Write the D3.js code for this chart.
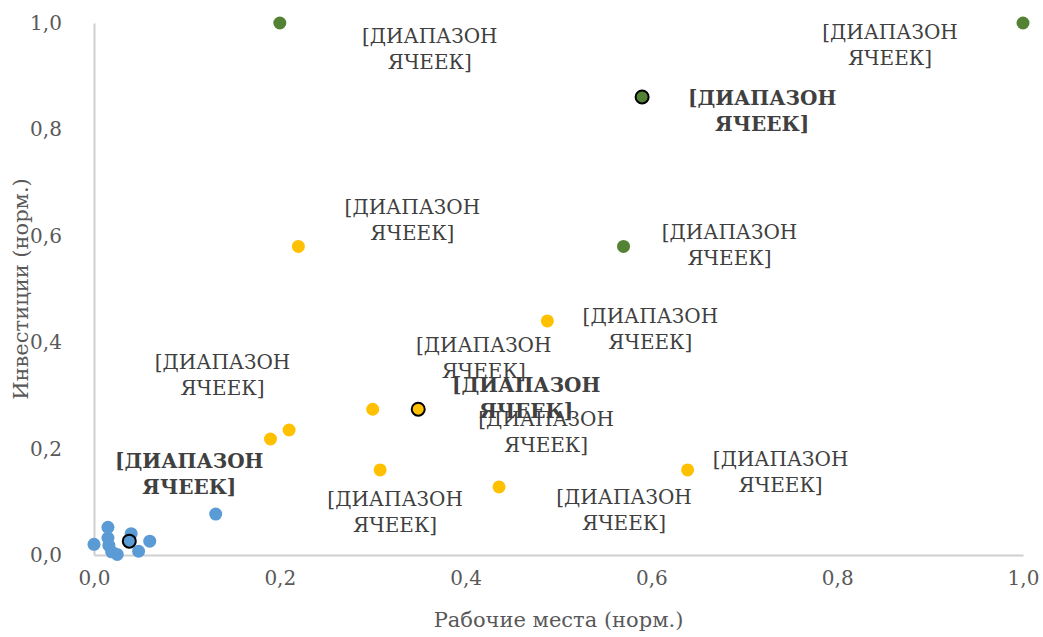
<!DOCTYPE html>
<html>
<head>
<meta charset="utf-8">
<script src="https://cdn.jsdelivr.net/npm/d3@7/dist/d3.min.js"></script>
<style>
  body { margin: 0; background: #fff; }
</style>
</head>
<body>
<svg id="chart" width="1043" height="637"></svg>
<script>
// data (normalised values)
var blueX = [0.0, 0.015, 0.015, 0.016, 0.019, 0.025, 0.04, 0.048, 0.06, 0.131, 0.038];
var blueY = [0.02, 0.052, 0.032, 0.018, 0.006, 0.001, 0.04, 0.007, 0.026, 0.077, 0.026];
var blueMain = 10;

var orangeX = [0.22, 0.488, 0.30, 0.349, 0.21, 0.19, 0.308, 0.436, 0.639];
var orangeY = [0.58, 0.44, 0.274, 0.274, 0.235, 0.218, 0.16, 0.128, 0.16];
var orangeMain = 3;

var greenX = [0.2, 1.0, 0.59, 0.57];
var greenY = [1.0, 1.0, 0.861, 0.58];
var greenMain = 2;

var xTicks = [0, 0.2, 0.4, 0.6, 0.8, 1.0];
var yTicks = [0, 0.2, 0.4, 0.6, 0.8, 1.0];

var labelText = ['[ДИАПАЗОН', 'ЯЧЕЕК]'];
var xTitle = 'Рабочие места (норм.)';
var yTitle = 'Инвестиции (норм.)';

// label offsets in px (layout only), null = no label
var blueLabelOff = [null, null, null, null, null, null, null, null, null, null, [60, -67]];
var orangeLabelOff = [[114, -26], [103, 8], [111, -51], [108, -11], [257, 2], [-48, -64], [15, 42], [125, 23], [93, 2]];
var greenLabelOff = [[150, 26], [-133, 22], [120, 14], [106, -1]];

// only DejaVu Serif gives serif cyrillic in the sandbox
var FONT = '"DejaVu Serif", serif';

var svg = d3.select('#chart');
var margin = {left: 94, top: 23, right: 20, bottom: 82};
var W = 1043, H = 637;

var x = d3.scaleLinear().domain([0, 1]).range([margin.left, W - margin.right]);
var y = d3.scaleLinear().domain([0, 1]).range([H - margin.bottom, margin.top]);

var fmt = function(d){ return d3.format('.1f')(d).replace('.', ','); };

// axes
var xAxis = svg.append('g')
	.attr('transform', 'translate(0,' + y(0) + ')')
	.call(d3.axisBottom(x).tickValues(xTicks).tickFormat(fmt).tickSize(0).tickPadding(16));
var yAxis = svg.append('g')
	.attr('transform', 'translate(' + x(0) + ',0)')
	.call(d3.axisLeft(y).tickValues(yTicks).tickFormat(fmt).tickSize(0).tickPadding(47));

[xAxis, yAxis].forEach(function(a){
	a.attr('font-family', FONT).attr('font-size', 20);
	a.select('.domain').attr('stroke', '#d0d0d0').attr('stroke-width', 2);
	a.selectAll('text').attr('fill', '#595959');
});
yAxis.selectAll('text').attr('text-anchor', 'middle').attr('dx', '-1');

svg.append('text')
	.attr('x', (x(0) + x(1)) / 2)
	.attr('y', 627)
	.attr('text-anchor', 'middle')
	.attr('fill', '#595959')
	.attr('font-family', FONT)
	.attr('font-size', 21)
	.text(xTitle);

svg.append('text')
	.attr('transform', 'translate(28,' + ((y(0) + y(1)) / 2) + ') rotate(-90)')
	.attr('text-anchor', 'middle')
	.attr('fill', '#595959')
	.attr('font-family', FONT)
	.attr('font-size', 21)
	.text(yTitle);

var series = [
	{xs: blueX, ys: blueY, main: blueMain, color: '#5b9bd5', off: blueLabelOff},
	{xs: orangeX, ys: orangeY, main: orangeMain, color: '#ffc000', off: orangeLabelOff},
	{xs: greenX, ys: greenY, main: greenMain, color: '#548235', off: greenLabelOff}
];

series.forEach(function(s){
	var pts = s.xs.map(function(v, i){
		return {x: v, y: s.ys[i], main: i === s.main};
	});
	svg.append('g').selectAll('circle')
		.data(pts)
		.enter().append('circle')
		.attr('cx', function(d){ return x(d.x); })
		.attr('cy', function(d){ return y(d.y); })
		.attr('r', 6.5)
		.attr('fill', s.color)
		.attr('stroke', function(d){ return d.main ? '#000' : 'none'; })
		.attr('stroke-width', 2);
});

// labels drawn after all points
series.forEach(function(s){
	s.xs.forEach(function(v, i){
		var off = s.off[i];
		if (!off) return;
		var cx = x(v) + off[0], cy = y(s.ys[i]) + off[1];
		var t = svg.append('text')
			.attr('text-anchor', 'middle')
			.attr('fill', '#404040')
			.attr('font-family', FONT)
			.attr('font-size', 20)
			.attr('font-weight', i === s.main ? 'bold' : 'normal');
		labelText.forEach(function(line, k){
			t.append('tspan')
				.attr('x', cx)
				.attr('y', cy + (k === 0 ? -13 : 13))
				.attr('dominant-baseline', 'central')
				.text(line);
		});
	});
});
</script>
</body>
</html>
